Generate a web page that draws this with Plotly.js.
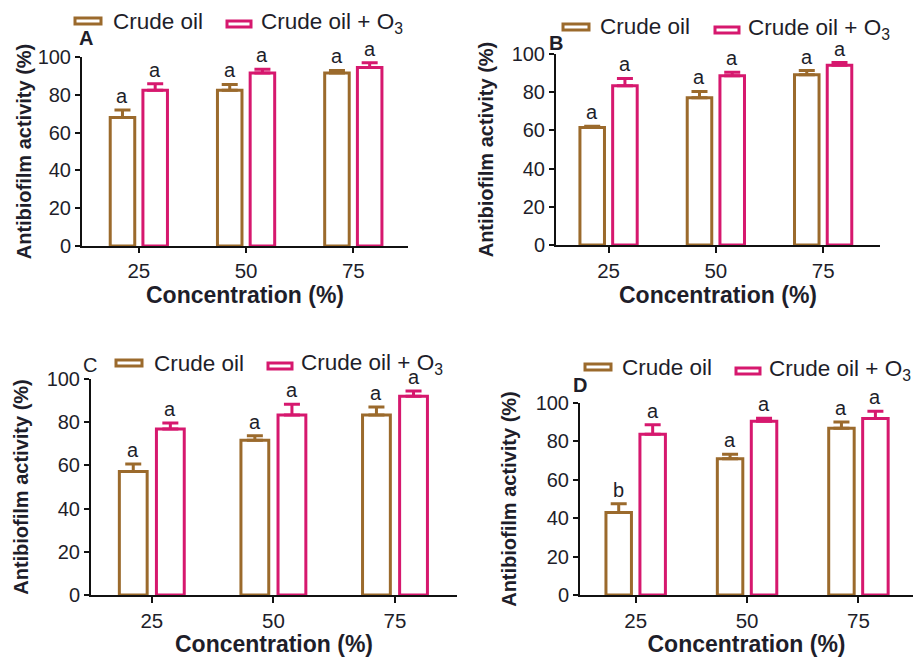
<!DOCTYPE html>
<html>
<head>
<meta charset="utf-8">
<script src="https://cdn.plot.ly/plotly-3.0.1.min.js"></script>
<style>html,body{margin:0;padding:0;background:#fff;}#chart{width:917px;height:657px;}</style>
</head>
<body>
<div id="chart"></div>
<script>
// ---- data ----
const categories = ['25', '50', '75'];
const seriesNames = ['Crude oil', 'Crude oil + O<sub>3</sub>'];
const panelLabels = ['A', 'B', 'C', 'D'];

const crudeA = [68.0, 82.4, 91.5];
const crudeErrA = [3.9, 3.1, 1.4];
const ozoneA = [82.4, 91.5, 94.5];
const ozoneErrA = [3.5, 2.0, 2.5];

const crudeB = [61.5, 77.1, 89.2];
const crudeErrB = [0.7, 3.3, 2.1];
const ozoneB = [83.4, 88.6, 94.1];
const ozoneErrB = [3.8, 1.8, 1.4];

const crudeC = [57.2, 71.6, 83.3];
const crudeErrC = [3.5, 2.1, 3.7];
const ozoneC = [76.8, 83.3, 92.0];
const ozoneErrC = [2.8, 5.0, 2.4];

const crudeD = [43.0, 70.9, 86.8];
const crudeErrD = [4.5, 2.4, 3.3];
const ozoneD = [83.7, 90.5, 91.9];
const ozoneErrD = [5.0, 1.5, 3.8];

const lettersCrudeA = ['a', 'a', 'a'], lettersOzoneA = ['a', 'a', 'a'];
const lettersCrudeB = ['a', 'a', 'a'], lettersOzoneB = ['a', 'a', 'a'];
const lettersCrudeC = ['a', 'a', 'a'], lettersOzoneC = ['a', 'a', 'a'];
const lettersCrudeD = ['b', 'a', 'a'], lettersOzoneD = ['a', 'a', 'a'];

const yTicks = [0, 20, 40, 60, 80, 100];

// ---- styling ----
const W = 917, H = 657;
const BROWN = '#9B6A2C';
const PINK = '#D6186E';
const TEXT = '#1e1e2a';
const FONT = 'Liberation Sans, Arial, sans-serif';
const BARGAP = 0.39, BARGROUPGAP = 0.25;

const px = v => v / W;
const py = v => 1 - v / H;

const panels = [
  {crude: crudeA, crudeErr: crudeErrA, ozone: ozoneA, ozoneErr: ozoneErrA, lc: lettersCrudeA, lo: lettersOzoneA,
   dom: [82, 408, 57, 246], xr: [-0.53, 2.51], ystand: 1, xstand: 0, xtl: 5,
   label: {x: 86, y: 38, bold: true},
   leg: {s1: [75, 101, 18, 24], t1: [111, 21], s2: [227, 251, 21, 27], t2: [259, 23]}},
  {crude: crudeB, crudeErr: crudeErrB, ozone: ozoneB, ozoneErr: ozoneErrB, lc: lettersCrudeB, lo: lettersOzoneB,
   dom: [556, 880, 54, 245], xr: [-0.49, 2.53], ystand: 13, xstand: 3, xtl: 6,
   label: {x: 556, y: 43, bold: true},
   leg: {s1: [563, 589, 24, 30], t1: [598, 26], s2: [715, 739, 27, 33], t2: [746, 29]}},
  {crude: crudeC, crudeErr: crudeErrC, ozone: ozoneC, ozoneErr: ozoneErrC, lc: lettersCrudeC, lo: lettersOzoneC,
   dom: [91, 457, 379, 595], xr: [-0.50, 2.51], ystand: 13, xstand: 7, xtl: 6,
   label: {x: 90, y: 365, bold: false},
   leg: {s1: [116, 142, 360, 366], t1: [152, 363], s2: [268, 292, 363, 369], t2: [299, 364]}},
  {crude: crudeD, crudeErr: crudeErrD, ozone: ozoneD, ozoneErr: ozoneErrD, lc: lettersCrudeD, lo: lettersOzoneD,
   dom: [580, 913, 403, 595], xr: [-0.50, 2.49], ystand: 14, xstand: 5, xtl: 6,
   label: {x: 580, y: 385, bold: true},
   leg: {s1: [585, 611, 364, 370], t1: [620, 367], s2: [736, 760, 368, 374], t2: [767, 370]}}
];

const data = [];
const layout = {
  width: W, height: H,
  margin: {l: 0, r: 0, t: 0, b: 0},
  paper_bgcolor: '#fff', plot_bgcolor: 'rgba(0,0,0,0)',
  showlegend: false,
  barmode: 'group', bargap: BARGAP, bargroupgap: BARGROUPGAP,
  font: {family: FONT, color: TEXT},
  annotations: [], shapes: []
};

const offset = (1 - BARGAP) / 4;

panels.forEach((p, i) => {
  const n = i === 0 ? '' : String(i + 1);
  const xa = 'x' + n, ya = 'y' + n;
  const series = [
    {y: p.crude, err: p.crudeErr, color: BROWN, name: seriesNames[0], letters: p.lc, dx: -offset},
    {y: p.ozone, err: p.ozoneErr, color: PINK, name: seriesNames[1], letters: p.lo, dx: offset}
  ];
  series.forEach(s => {
    data.push({
      type: 'bar', x: categories, y: s.y, name: s.name, xaxis: xa, yaxis: ya,
      marker: {color: '#ffffff', line: {color: s.color, width: 3}},
      error_y: {type: 'data', symmetric: false, array: s.err, arrayminus: [0, 0, 0],
                color: s.color, thickness: 3, width: 8},
      hoverinfo: 'skip'
    });
    s.y.forEach((v, k) => {
      layout.annotations.push({
        xref: xa, yref: ya, x: k + s.dx, y: v + s.err[k], text: s.letters[k],
        showarrow: false, yanchor: 'bottom', yshift: 1,
        font: {family: FONT, size: 20, color: TEXT}
      });
    });
  });

  layout['xaxis' + n] = {
    type: 'category', domain: [px(p.dom[0]), px(p.dom[1])], anchor: ya, range: p.xr,
    showgrid: false, zeroline: false, showline: true, linecolor: '#111', linewidth: 2,
    ticks: 'outside', ticklen: p.xtl, tickwidth: 2, tickcolor: '#111',
    tickfont: {family: FONT, size: 20.5, color: TEXT},
    title: {text: '<b>Concentration (%)</b>', font: {family: FONT, size: 23, color: TEXT}, standoff: p.xstand},
    fixedrange: true
  };
  layout['yaxis' + n] = {
    domain: [py(p.dom[3]), py(p.dom[2])], anchor: xa, range: [0, 100],
    tickvals: yTicks, ticktext: yTicks.map(String),
    showgrid: false, zeroline: false, showline: true, linecolor: '#111', linewidth: 2,
    ticks: 'outside', ticklen: 5, tickwidth: 2, tickcolor: '#111',
    tickfont: {family: FONT, size: 20, color: TEXT},
    title: {text: '<b>Antibiofilm activity (%)</b>', font: {family: FONT, size: 20, color: TEXT}, standoff: p.ystand},
    fixedrange: true
  };

  // panel label
  layout.annotations.push({
    xref: 'paper', yref: 'paper', x: px(p.label.x), y: py(p.label.y),
    text: p.label.bold ? '<b>' + panelLabels[i] + '</b>' : panelLabels[i],
    showarrow: false, xanchor: 'center', yanchor: 'middle',
    font: {family: FONT, size: 20, color: TEXT}
  });

  // legend (symbols + labels)
  [[p.leg.s1, p.leg.t1, BROWN, seriesNames[0]], [p.leg.s2, p.leg.t2, PINK, seriesNames[1]]].forEach(([s, t, c, name]) => {
    layout.shapes.push({
      type: 'rect', xref: 'paper', yref: 'paper',
      x0: px(s[0]), x1: px(s[1]), y0: py(s[3]), y1: py(s[2]),
      line: {color: c, width: 3}, fillcolor: '#ffffff'
    });
    layout.annotations.push({
      xref: 'paper', yref: 'paper', x: px(t[0]), y: py(t[1]), text: name,
      showarrow: false, xanchor: 'left', yanchor: 'middle',
      font: {family: FONT, size: 22.5, color: TEXT}
    });
  });
});

Plotly.newPlot('chart', data, layout, {displayModeBar: false, staticPlot: true});
</script>
</body>
</html>
